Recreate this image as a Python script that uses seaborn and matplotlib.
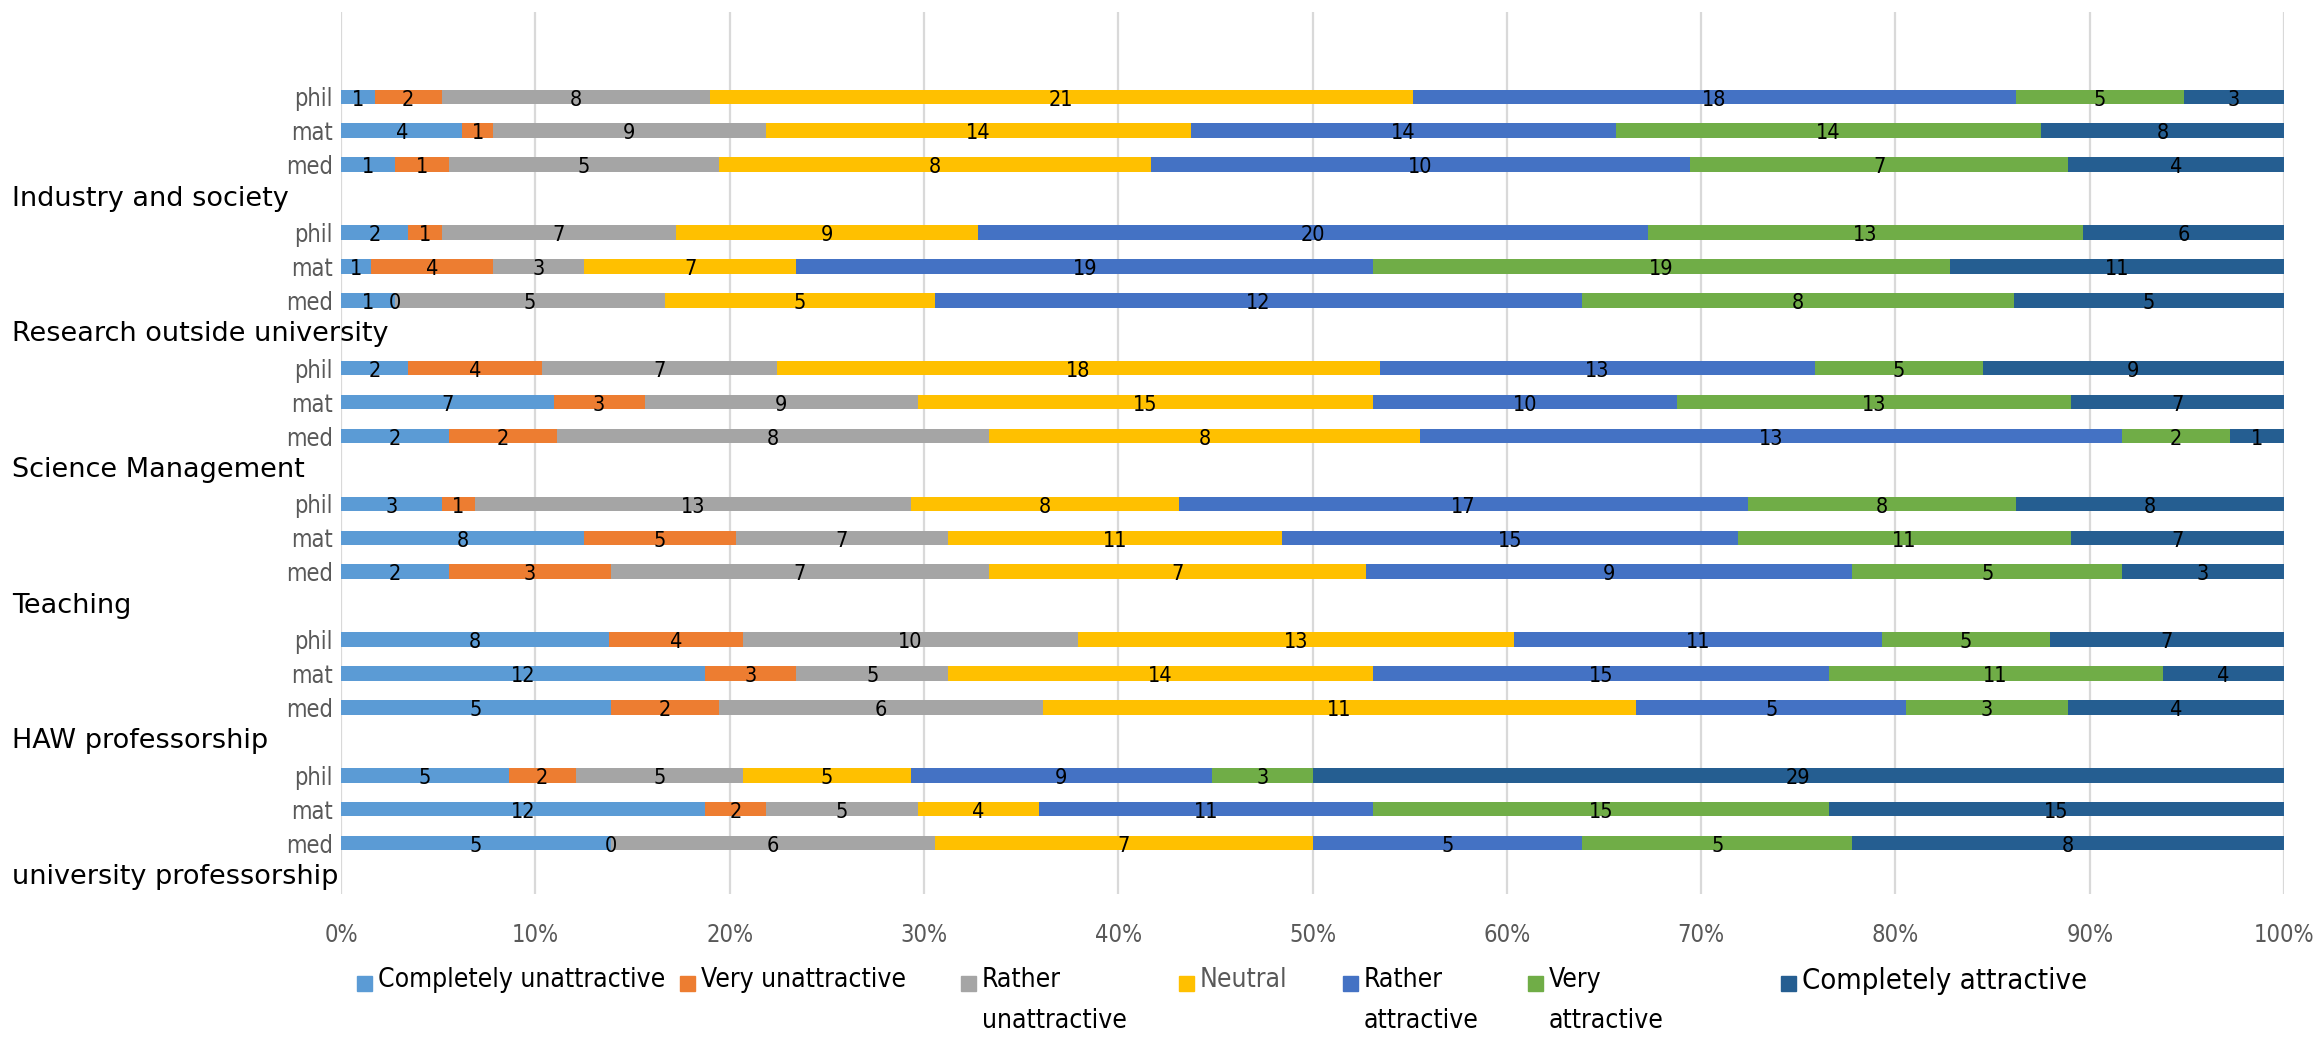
import numpy as np
import pandas as pd
import seaborn as sns
import matplotlib
matplotlib.use("Agg")
import matplotlib.pyplot as plt
from matplotlib.patches import Rectangle
from matplotlib.transforms import blended_transform_factory

# Ratings of career paths by subject group (counts per answer)
groups = ["Industry and society", "Research outside university", "Science Management",
          "Teaching", "HAW professorship", "university professorship"]
subjects = ["phil", "mat", "med"]
ratings = ["Completely unattractive", "Very unattractive", "Rather unattractive", "Neutral",
           "Rather attractive", "Very attractive", "Completely attractive"]
legend_labels = ["Completely unattractive", "Very unattractive", "Rather\nunattractive", "Neutral",
                 "Rather\nattractive", "Very\nattractive", "Completely attractive"]
colors = ["#5B9BD5", "#ED7D31", "#A5A5A5", "#FFC000", "#4472C4", "#70AD47", "#255E91"]

industry = {"phil": [1, 2, 8, 21, 18, 5, 3],
            "mat": [4, 1, 9, 14, 14, 14, 8],
            "med": [1, 1, 5, 8, 10, 7, 4]}
research = {"phil": [2, 1, 7, 9, 20, 13, 6],
            "mat": [1, 4, 3, 7, 19, 19, 11],
            "med": [1, 0, 5, 5, 12, 8, 5]}
management = {"phil": [2, 4, 7, 18, 13, 5, 9],
              "mat": [7, 3, 9, 15, 10, 13, 7],
              "med": [2, 2, 8, 8, 13, 2, 1]}
teaching = {"phil": [3, 1, 13, 8, 17, 8, 8],
            "mat": [8, 5, 7, 11, 15, 11, 7],
            "med": [2, 3, 7, 7, 9, 5, 3]}
haw_prof = {"phil": [8, 4, 10, 13, 11, 5, 7],
            "mat": [12, 3, 5, 14, 15, 11, 4],
            "med": [5, 2, 6, 11, 5, 3, 4]}
uni_prof = {"phil": [5, 2, 5, 5, 9, 3, 29],
            "mat": [12, 2, 5, 4, 11, 15, 15],
            "med": [5, 0, 6, 7, 5, 5, 8]}
group_data = [industry, research, management, teaching, haw_prof, uni_prof]

rows = []
for gi, (gname, gdict) in enumerate(zip(groups, group_data)):
    for si, subj in enumerate(subjects):
        rows.append({"group": gname, "subject": subj, "pos": 4 * gi + si,
                     **dict(zip(ratings, gdict[subj]))})
df = pd.DataFrame(rows)

sns.set_theme(style="white")
plt.rcParams["font.family"] = ["DejaVu Sans"]
plt.rcParams["font.stretch"] = "condensed"

W, H = 2318, 1040
fig = plt.figure(figsize=(W / 100, H / 100), dpi=100)
x0, x1, ytop, ybot = 341, 2284, 12, 894
ax = fig.add_axes([x0 / W, 1 - ybot / H, (x1 - x0) / W, (ybot - ytop) / H])

counts = df[ratings].to_numpy(dtype=float)
totals = counts.sum(axis=1, keepdims=True)
shares = counts / totals
lefts = np.hstack([np.zeros((len(df), 1)), np.cumsum(shares, axis=1)[:, :-1]])
ypos = df["pos"].to_numpy()

bar_h = 0.43
for k, (rating, col) in enumerate(zip(ratings, colors)):
    ax.barh(ypos, shares[:, k], left=lefts[:, k], height=bar_h, color=col,
            edgecolor="none", zorder=2)
    for i in range(len(df)):
        ax.text(lefts[i, k] + shares[i, k] / 2, ypos[i] + 0.08, f"{int(counts[i, k])}",
                ha="center", va="center", fontsize=15.5, color="black", zorder=3)

ax.set_xlim(0, 1)
ax.set_ylim(23.5, -2.5)
ax.set_xticks(np.arange(0, 1.01, 0.1))
ax.set_xticklabels([f"{int(round(v * 100))}%" for v in np.arange(0, 1.01, 0.1)],
                   fontsize=17, color="#595959")
ax.tick_params(axis="x", length=0, pad=21)
ax.set_yticks(ypos)
ax.set_yticklabels(df["subject"], fontsize=17, color="#595959")
ax.tick_params(axis="y", length=0, pad=6)
ax.grid(axis="x", color="#D9D9D9", linewidth=1.6, zorder=0)
ax.grid(axis="y", visible=False)
for sp in ax.spines.values():
    sp.set_visible(False)

# group names beneath each block of three bars
trans = blended_transform_factory(fig.transFigure, ax.transData)
for gi, gname in enumerate(groups):
    ax.text(12 / W, 4 * gi + 3, gname, transform=trans, ha="left", va="center",
            fontsize=19.5, fontstretch="normal", color="black", clip_on=False)

# legend row
leg_x = [357, 680, 961, 1179, 1343, 1528, 1781]
leg_size = [19, 19, 19, 19, 19, 19, 21]
leg_y = 983
msz = 15
for lx, lab, col, fs in zip(leg_x, legend_labels, colors, leg_size):
    fig.patches.append(Rectangle((lx / W, 1 - (leg_y + msz / 2) / H), msz / W, msz / H,
                                 transform=fig.transFigure, color=col))
    fig.text((lx + msz + 6) / W, 1 - (leg_y - 16) / H, lab, ha="left", va="top",
             fontsize=fs, color="#595959" if lab == "Neutral" else "black",
             linespacing=1.75)

fig.savefig("out.png", dpi=100)
